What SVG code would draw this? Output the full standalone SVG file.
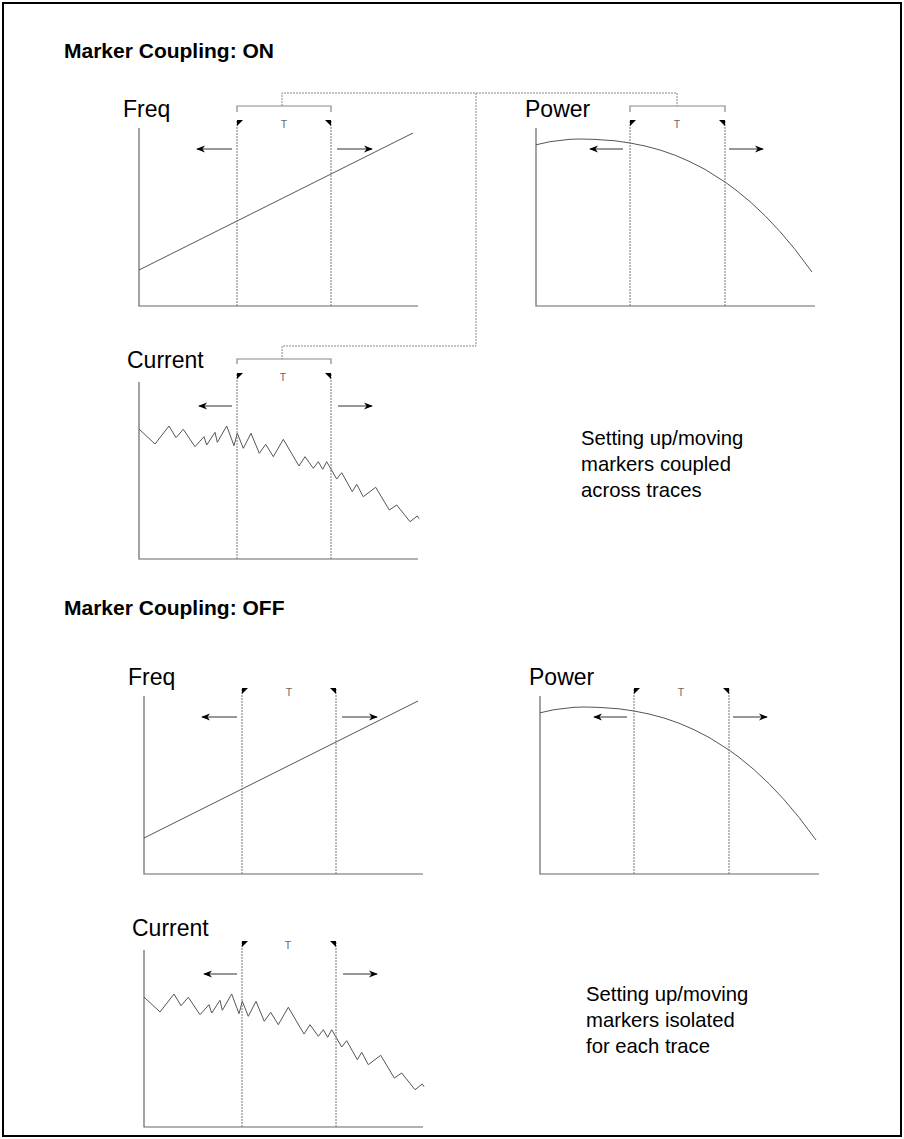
<svg xmlns="http://www.w3.org/2000/svg" xmlns:xlink="http://www.w3.org/1999/xlink" width="904" height="1139" viewBox="0 0 904 1139">
<style>
.title{font-family:"Liberation Sans",Arial,sans-serif;font-weight:bold;font-size:21px;fill:#000}
.lbl{font-family:"Liberation Sans",Arial,sans-serif;font-size:23px;fill:#000}
.note{font-family:"Liberation Sans",Arial,sans-serif;font-size:20.3px;fill:#000}
.t{font-family:"Liberation Sans",Arial,sans-serif;font-size:10.5px;fill:#666;text-anchor:middle}
.axis{stroke:#666;stroke-width:1.2;fill:none}
.trace{stroke:#555;stroke-width:1;fill:none}
.mline{stroke:#777;stroke-width:1;stroke-dasharray:2,1;fill:none}
.bracket{stroke:#888;stroke-width:1.2;fill:none}
.conn{stroke:#888;stroke-width:1;stroke-dasharray:2,1;fill:none}
.arrow{stroke:#333;stroke-width:1.2;fill:none;marker-end:url(#ah)}
.flag{fill:#000}
</style>
<defs>
<marker id="ah" viewBox="0 0 10 10" refX="9" refY="5" markerWidth="9" markerHeight="9" markerUnits="userSpaceOnUse" orient="auto">
<path d="M0,1 L10,5 L0,9 L3,5 z" fill="#000"/>
</marker>
<path id="flagL" d="M0,0 h6 l-6,6 z"/>
<path id="flagR" d="M0,0 h-6 l6,6 z"/>
</defs>
<rect x="3" y="3" width="898" height="1133" fill="#fff" stroke="#000" stroke-width="2"/>
<text class="title" x="64" y="58">Marker Coupling: ON</text>
<text class="title" x="64" y="615">Marker Coupling: OFF</text>

<g id="freq-on">
<text class="lbl" x="123" y="117">Freq</text>
<path class="axis" d="M139,128 V306 H418"/>
<path class="trace" d="M139,270 L413,133"/>
<path class="mline" d="M237,121 V306 M331,121 V306"/>
<use href="#flagL" class="flag" x="237" y="120"/>
<use href="#flagR" class="flag" x="331" y="120"/>
<text class="t" x="284" y="128">T</text>
<path class="arrow" d="M232,149 H197"/>
<path class="arrow" d="M337,149 H372"/>
<path class="bracket" d="M237,112 V106 H331 V112"/>
</g>

<g id="power-on">
<text class="lbl" x="525" y="117">Power</text>
<path class="axis" d="M536,128 V306 H815"/>
<polyline class="trace" points="536,144.8 550,141.7 570,139.3 580,139 595,139.4 615,140.8 630,143 645,146 660,150 675,155.2 690,161.7 705,169.4 725,182 735,189.3 750,201.6 765,215.7 780,231.6 795,249.4 812,272"/>
<path class="mline" d="M630,121 V306 M725,121 V306"/>
<use href="#flagL" class="flag" x="630" y="120"/>
<use href="#flagR" class="flag" x="725" y="120"/>
<text class="t" x="677" y="128">T</text>
<path class="arrow" d="M623,149 H590"/>
<path class="arrow" d="M729,149 H763"/>
<path class="bracket" d="M630,112 V106 H725 V112"/>
</g>

<g id="current-on">
<text class="lbl" x="127" y="368">Current</text>
<path class="axis" d="M139,382 V559 H418"/>
<polyline class="trace" points="139,429 155,444 169,426 176,437.7 183.3,429.3 195,446.7 204,436.7 206.7,445 215,432.3 217.3,442.3 226.7,426 234,445.7 237.3,433.3 243.3,448.3 251,433.3 259.3,453.3 265.7,444.3 273.3,456.7 283.3,439.3 299,466 305,456.7 313.3,468.3 318.3,461.7 322.7,469.3 326.7,461.7 336.7,479 341.7,472.7 352.3,491.7 356.7,484.3 363.3,496.7 375.7,487.3 389.3,510 396.7,505 410,521.7 417.3,516 419,518.7"/>
<path class="mline" d="M237,374 V559 M331,374 V559"/>
<use href="#flagL" class="flag" x="237" y="373"/>
<use href="#flagR" class="flag" x="331" y="373"/>
<text class="t" x="283" y="381">T</text>
<path class="arrow" d="M232,406 H199"/>
<path class="arrow" d="M338,406 H372"/>
<path class="bracket" d="M237,364 V359 H331 V364"/>
</g>

<g id="connectors">
<path class="conn" d="M282,106 V93 H677 V106"/>
<path class="conn" d="M476,93 V346 H282 V359"/>
</g>

<g id="note-on">
<text class="note" x="581" y="445">Setting up/moving</text>
<text class="note" x="581" y="471">markers coupled</text>
<text class="note" x="581" y="497">across traces</text>
</g>

<g id="freq-off" transform="translate(5,568)">
<text class="lbl" x="123" y="117">Freq</text>
<path class="axis" d="M139,128 V306 H418"/>
<path class="trace" d="M139,270 L413,133"/>
<path class="mline" d="M237,121 V306 M331,121 V306"/>
<use href="#flagL" class="flag" x="237" y="120"/>
<use href="#flagR" class="flag" x="331" y="120"/>
<text class="t" x="284" y="128">T</text>
<path class="arrow" d="M232,149 H197"/>
<path class="arrow" d="M337,149 H372"/>
</g>

<g id="power-off" transform="translate(4,568)">
<text class="lbl" x="525" y="117">Power</text>
<path class="axis" d="M536,128 V306 H815"/>
<polyline class="trace" points="536,144.8 550,141.7 570,139.3 580,139 595,139.4 615,140.8 630,143 645,146 660,150 675,155.2 690,161.7 705,169.4 725,182 735,189.3 750,201.6 765,215.7 780,231.6 795,249.4 812,272"/>
<path class="mline" d="M630,121 V306 M725,121 V306"/>
<use href="#flagL" class="flag" x="630" y="120"/>
<use href="#flagR" class="flag" x="725" y="120"/>
<text class="t" x="677" y="128">T</text>
<path class="arrow" d="M623,149 H590"/>
<path class="arrow" d="M729,149 H763"/>
</g>

<g id="current-off" transform="translate(5,568)">
<text class="lbl" x="127" y="368">Current</text>
<path class="axis" d="M139,382 V559 H418"/>
<polyline class="trace" points="139,429 155,444 169,426 176,437.7 183.3,429.3 195,446.7 204,436.7 206.7,445 215,432.3 217.3,442.3 226.7,426 234,445.7 237.3,433.3 243.3,448.3 251,433.3 259.3,453.3 265.7,444.3 273.3,456.7 283.3,439.3 299,466 305,456.7 313.3,468.3 318.3,461.7 322.7,469.3 326.7,461.7 336.7,479 341.7,472.7 352.3,491.7 356.7,484.3 363.3,496.7 375.7,487.3 389.3,510 396.7,505 410,521.7 417.3,516 419,518.7"/>
<path class="mline" d="M237,374 V559 M331,374 V559"/>
<use href="#flagL" class="flag" x="237" y="373"/>
<use href="#flagR" class="flag" x="331" y="373"/>
<text class="t" x="283" y="381">T</text>
<path class="arrow" d="M232,406 H199"/>
<path class="arrow" d="M338,406 H372"/>
</g>

<g id="note-off">
<text class="note" x="586" y="1001">Setting up/moving</text>
<text class="note" x="586" y="1027">markers isolated</text>
<text class="note" x="586" y="1053">for each trace</text>
</g>
</svg>
